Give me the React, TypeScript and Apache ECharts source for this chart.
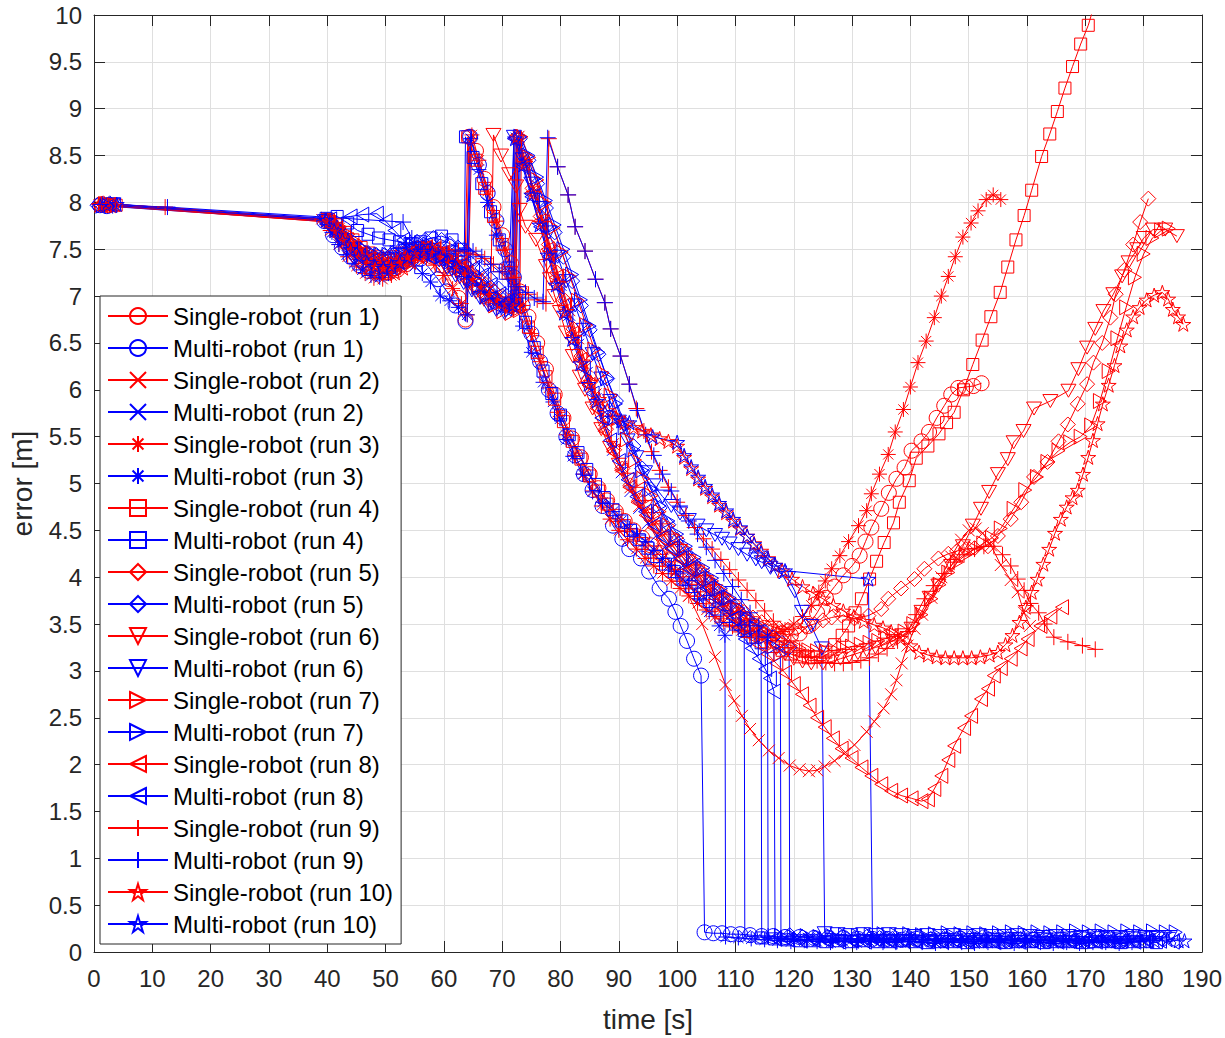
import React, { useEffect, useRef } from "react";
import * as echarts from "echarts";

// ---------- axes ----------
const xRange = [0, 190];
const xStep = 10;
const yRange = [0, 10];
const yStep = 0.5;
const xTitle = "time [s]";
const yTitle = "error [m]";

// ---------- series names ----------
const singleNames = [
  "Single-robot (run 1)", "Single-robot (run 2)", "Single-robot (run 3)", "Single-robot (run 4)", "Single-robot (run 5)",
  "Single-robot (run 6)", "Single-robot (run 7)", "Single-robot (run 8)", "Single-robot (run 9)", "Single-robot (run 10)",
];
const multiNames = [
  "Multi-robot (run 1)", "Multi-robot (run 2)", "Multi-robot (run 3)", "Multi-robot (run 4)", "Multi-robot (run 5)",
  "Multi-robot (run 6)", "Multi-robot (run 7)", "Multi-robot (run 8)", "Multi-robot (run 9)", "Multi-robot (run 10)",
];

// ---------- data: [time s, error m] ----------
const single1 = [[1.2,7.98],[2.5,7.97],[40,7.8],[41.5,7.7],[43,7.58],[44.5,7.47],[46,7.38],[47.5,7.31],[49,7.27],[50.5,7.25],[52,7.28],[53.5,7.34],[55,7.4],[56.5,7.45],[58,7.42],[59.5,7.33],[61,7.18],[62.5,6.98],[63.7,6.75],[64.3,8.7],[65.5,8.55],[67,8.25],[68.5,7.95],[70,7.65],[71.5,7.35],[73,7.05],[74.5,6.78],[76,6.5],[77.5,6.22],[79,5.95],[80.5,5.7],[82,5.48],[83.5,5.28],[85,5.1],[86.5,4.95],[88,4.82],[89.5,4.7],[91,4.6],[92.5,4.5],[94,4.42],[95.5,4.34],[97,4.26],[98.5,4.18],[100,4.1],[101.5,4.02],[103,3.95],[104.5,3.88],[106,3.8],[107.5,3.73],[109,3.66],[110.5,3.6],[112,3.55],[113.5,3.5],[115,3.46],[116.5,3.42],[118,3.4],[119.5,3.38],[121,3.4],[122.5,3.48],[124,3.62],[125.5,3.78],[127,3.9],[128.5,4.02],[130,4.12],[131.3,4.23],[132.3,4.38],[133.3,4.53],[135,4.73],[136.3,4.9],[137.6,5.05],[139,5.17],[140.2,5.35],[141.9,5.45],[143.2,5.55],[144.5,5.7],[145.8,5.83],[147,5.95],[148.2,6.02],[149.5,6.03],[150.8,6.04],[152.2,6.07]];
const multi1Path = [[1.0,7.97],[2.2,7.96],[39.5,7.8],[41,7.65],[42.5,7.52],[44,7.42],[45.5,7.33],[47,7.27],[48.5,7.24],[50,7.25],[51.5,7.3],[53,7.37],[54.5,7.42],[56,7.4],[57.5,7.3],[59,7.18],[60.5,7.05],[62,6.9],[63.7,6.73],[64.5,8.7],[66,8.4],[67.5,8.1],[69,7.8],[70.5,7.5],[72,7.2],[73.5,6.9],[75,6.6],[76.5,6.3],[78,6.0],[79.5,5.75],[81,5.5],[82.5,5.3],[84,5.1],[85.5,4.93],[87.2,4.76],[89,4.55],[90.6,4.41],[91.8,4.3],[93.8,4.2],[95.2,4.06],[97,3.88],[98.6,3.77],[99.7,3.63],[100.6,3.48],[101.7,3.32],[102.9,3.13],[104.1,2.95]];
const multi1Tail = [[104.7,0.21],[106.2,0.2],[107.7,0.2],[109.2,0.19],[110.8,0.19],[112.5,0.18],[114.5,0.17],[116.5,0.17],[118.5,0.16],[121,0.16],[123.5,0.15],[126,0.15],[128.5,0.15],[131,0.14],[133.5,0.14],[136,0.14],[138.5,0.13],[141,0.14],[143.5,0.13],[146,0.13],[148.5,0.14],[151,0.13],[153.5,0.13],[156,0.12],[158.5,0.13],[161,0.13],[163.5,0.12],[166,0.13],[168.5,0.12],[171,0.12],[173.5,0.13],[176,0.12]];

const single2 = [[1.5,7.97],[3,7.96],[40.5,7.79],[42,7.72],[43.5,7.62],[45,7.52],[46.5,7.44],[48,7.38],[49.5,7.35],[51,7.36],[52.5,7.4],[54,7.45],[55.5,7.5],[57,7.52],[58.5,7.5],[60,7.45],[61.5,7.4],[63,7.36],[64.5,7.3],[66,7.2],[67.5,7.05],[69,6.95],[70.5,6.9],[72,6.88],[72.8,8.7],[74,8.45],[75.5,8.12],[77,7.8],[78.5,7.48],[80,7.15],[81.5,6.85],[83,6.55],[84.5,6.25],[86,5.95],[87.5,5.68],[89,5.42],[90.5,5.18],[92,4.96],[93.5,4.76],[95.3,4.55],[97.5,4.3],[99.7,4.05],[102,3.8],[104.3,3.5],[106.5,3.15],[108.3,2.85],[109.8,2.68],[111.1,2.52],[112.5,2.38],[114,2.26],[115.7,2.15],[117.4,2.07],[119.3,1.99],[121,1.95],[122.6,1.93],[124,1.94],[125.3,1.98],[127,2.04],[128.7,2.12],[130.4,2.21],[132.5,2.35],[133.8,2.46],[135.4,2.6],[136.7,2.75],[137.6,2.9],[138.5,3.08],[139.5,3.27],[140.7,3.45],[142,3.6],[143.6,3.78],[145.3,4.0],[147,4.22],[148.7,4.4],[150,4.5],[151.2,4.52],[152.4,4.47],[153.8,4.34],[155.5,4.13],[157.2,3.97],[158.4,3.84],[159.5,3.62],[160.5,3.48]];
const multi2Path = [[2.0,7.98],[39.9,7.8],[41.3,7.7],[42.7,7.58],[44.1,7.48],[45.5,7.4],[46.9,7.33],[48.3,7.28],[49.7,7.26],[51.1,7.28],[52.5,7.33],[53.9,7.4],[55.3,7.46],[56.7,7.5],[58.1,7.5],[59.5,7.46],[60.9,7.4],[62.3,7.34],[63.7,7.26],[65.1,7.18],[66.5,7.08],[67.9,6.98],[69.3,6.9],[70.7,6.86],[72,6.88],[72.5,8.68],[74,8.4],[75.5,8.08],[77,7.76],[78.5,7.44],[80,7.12],[81.5,6.8],[83,6.48],[84.5,6.18],[86,5.9],[87.5,5.62],[89,5.36],[90.5,5.12],[92,4.92],[93.5,4.74],[95,4.58],[96.5,4.45],[98,4.33],[99.5,4.22],[101,4.12],[102.5,4.02],[104,3.92],[105.5,3.82],[107,3.72],[108.5,3.62],[110,3.53],[111.5,3.45]];
const multi2Tail = [[111.6,0.17],[113.8,0.16],[116,0.15],[118.2,0.14],[120.4,0.13],[122.6,0.14],[124.8,0.13],[127,0.12],[129.2,0.13],[131.4,0.12],[133.6,0.13],[135.8,0.12],[138,0.12],[140.2,0.11],[142.4,0.12],[144.6,0.12],[146.8,0.11],[149,0.12],[151.2,0.11],[153.4,0.12],[155.6,0.11],[157.8,0.12],[160,0.11],[162.2,0.12],[164.4,0.11],[166.6,0.12],[168.8,0.11],[171,0.11],[173.2,0.12],[175.4,0.11],[177.6,0.11],[179.8,0.12]];

const single3 = [[0.8,7.98],[2,7.97],[39,7.82],[40.5,7.7],[42,7.55],[43.5,7.42],[45,7.32],[46.5,7.24],[48,7.19],[49.5,7.18],[51,7.22],[52.5,7.3],[54,7.38],[55.5,7.42],[57,7.4],[58.5,7.33],[60,7.22],[61.5,7.08],[63,6.92],[64,6.8],[64.8,8.72],[66,8.45],[67.5,8.12],[69,7.8],[70.5,7.5],[72,7.2],[73.5,6.9],[75,6.6],[76.5,6.3],[78,6.02],[79.5,5.76],[81,5.52],[82.5,5.3],[84,5.1],[85.5,4.92],[87,4.76],[88.5,4.62],[90,4.5],[91.5,4.4],[93,4.3],[94.5,4.2],[96,4.12],[97.5,4.04],[99,3.96],[100.5,3.88],[102,3.8],[103.5,3.72],[105,3.65],[106.5,3.58],[108,3.52],[109.5,3.47],[111,3.43],[112.5,3.4],[114,3.38],[115.5,3.38],[117,3.4],[118.5,3.44],[120,3.5],[121.5,3.58],[123,3.7],[124.3,3.84],[125.4,3.96],[126.5,4.09],[127.9,4.23],[129.4,4.38],[131.1,4.55],[132.5,4.71],[133.3,4.89],[134.7,5.1],[136.2,5.31],[137.4,5.55],[138.8,5.79],[140,6.03],[141.3,6.29],[142.7,6.52],[144.1,6.77],[145.3,7.0],[146.5,7.21],[147.7,7.42],[149,7.63],[150.4,7.78],[151.6,7.91],[153,8.03],[154.2,8.08],[155.5,8.03]];
const multi3Path = [[1.8,7.98],[3.2,7.96],[39.5,7.81],[40.8,7.68],[42,7.55],[43.3,7.44],[44.6,7.35],[46,7.28],[47.5,7.22],[49,7.2],[50.5,7.24],[52,7.3],[53.5,7.36],[55,7.32],[56.3,7.24],[57.7,7.15],[59.4,7.0],[61,6.95],[62.5,6.88],[64,6.8],[64.6,8.68],[66,8.35],[67.5,8.0],[69,7.65],[70.5,7.3],[72,6.98],[73.5,6.68],[75,6.4],[77,6.08],[78.7,5.87],[79.9,5.69],[81,5.47],[82.1,5.29],[83.8,5.1],[85.5,4.91],[87.2,4.8],[89,4.7],[90.4,4.6],[91.8,4.52],[93.2,4.45],[94.6,4.38],[96,4.29],[97.5,4.2],[98.6,4.13],[99.7,4.06],[101,3.98],[102,3.91],[103.8,3.77],[105.5,3.63],[107.2,3.48],[108.2,3.38]];
const multi3Tail = [[108.3,0.16],[110.5,0.15],[112.7,0.14],[115,0.13],[117.2,0.12],[119.5,0.11],[121.8,0.12],[124,0.11],[126.3,0.1],[128.5,0.11],[130.8,0.1],[133,0.11],[135.3,0.1],[137.5,0.1],[139.8,0.11],[142,0.1],[144.3,0.09],[146.5,0.1],[148.8,0.1],[151,0.09],[153.3,0.1],[155.5,0.1],[157.8,0.09],[160,0.1],[162.3,0.1],[164.5,0.09],[166.8,0.1],[169,0.09],[171.3,0.1],[173.5,0.1],[175.8,0.09],[178,0.1]];

const single4 = [[2.4,7.98],[3.8,7.97],[40.2,7.82],[41.6,7.76],[43,7.68],[44.4,7.6],[45.8,7.52],[47.2,7.46],[48.6,7.42],[50,7.4],[51.4,7.42],[52.8,7.46],[54.2,7.5],[55.6,7.52],[57,7.52],[58.4,7.5],[59.8,7.46],[61.2,7.42],[62.6,7.36],[63.6,7.3],[64.1,8.7],[65.5,8.45],[67,8.15],[68.5,7.85],[70,7.55],[71.5,7.25],[73,6.95],[74.5,6.67],[76,6.4],[77.5,6.14],[79,5.9],[80.5,5.66],[82,5.45],[83.5,5.26],[85,5.08],[86.5,4.92],[88,4.78],[89.5,4.66],[91,4.55],[92.5,4.45],[94,4.36],[95.5,4.27],[97,4.18],[98.5,4.1],[100,4.02],[101.5,3.94],[103,3.86],[104.5,3.78],[106,3.7],[107.5,3.62],[109,3.55],[110.5,3.48],[112,3.42],[113.5,3.36],[115,3.31],[116.5,3.26],[118,3.22],[119.5,3.18],[121,3.15],[122.5,3.14],[124,3.15],[125.5,3.2],[127,3.28],[128.3,3.38],[129.4,3.48],[130.5,3.62],[131.6,3.77],[133,3.98],[134.2,4.17],[135.5,4.37],[137.1,4.58],[138.1,4.8],[139.8,5.03],[141,5.27],[143,5.4],[144.9,5.53],[146.2,5.65],[147.5,5.76],[149.1,6.0],[150.7,6.27],[152.3,6.53],[153.8,6.78],[155.4,7.04],[156.7,7.31],[158.1,7.6],[159.5,7.86],[160.8,8.13],[162.5,8.49],[163.9,8.73],[165.2,8.97],[166.5,9.22],[167.8,9.45],[169.2,9.69],[170.5,9.89],[171.6,10.12]];
const multi4Path = [[3.5,7.98],[39.8,7.83],[41.7,7.85],[43.5,7.78],[45.2,7.7],[47,7.66],[48.8,7.62],[50.6,7.6],[52.4,7.58],[54.2,7.56],[56,7.58],[57.8,7.62],[59.6,7.64],[61.4,7.6],[62.8,7.5],[63.5,7.45],[63.7,8.7],[65,8.48],[66.5,8.2],[68,7.9],[69.5,7.6],[71,7.3],[72.5,7.0],[74,6.72],[75.5,6.45],[77,6.2],[78.5,5.96],[80,5.73],[81.5,5.52],[83,5.33],[84.5,5.15],[86,4.99],[87.5,4.85],[89,4.72],[90.5,4.6],[92,4.5],[93.5,4.4],[95,4.31],[96.5,4.22],[98,4.14],[99.5,4.06],[101,3.98],[102.5,3.9],[104,3.82],[105.5,3.74],[107,3.66],[108.5,3.58],[110,3.5],[111.5,3.43],[113,3.36],[114.4,3.3]];
const multi4Tail = [[114.5,0.15],[116.7,0.14],[118.9,0.13],[121.1,0.12],[123.3,0.12],[125.5,0.11],[127.7,0.12],[129.9,0.11],[132.1,0.12],[134.3,0.11],[136.5,0.11],[138.7,0.12],[140.9,0.11],[143.1,0.1],[145.3,0.11],[147.5,0.11],[149.7,0.1],[151.9,0.11],[154.1,0.11],[156.3,0.1],[158.5,0.11],[160.7,0.11],[162.9,0.1],[165.1,0.11],[167.3,0.11],[169.5,0.1],[171.7,0.11],[173.9,0.11],[176.1,0.1],[178.3,0.11],[180.5,0.11],[182.2,0.1]];

const single5 = [[1.6,7.99],[2.9,7.97],[40.6,7.8],[42,7.7],[43.4,7.6],[44.8,7.5],[46.2,7.42],[47.6,7.36],[49,7.32],[50.4,7.3],[51.8,7.32],[53.2,7.36],[54.6,7.42],[56,7.48],[57.4,7.5],[58.8,7.48],[60.2,7.42],[61.6,7.36],[63,7.3],[64.4,7.25],[65.8,7.2],[67.2,7.12],[68.6,7.05],[70,7.0],[71.4,6.95],[72.5,8.7],[73.8,8.45],[75.2,8.15],[76.6,7.85],[78,7.55],[79.4,7.25],[80.8,6.95],[82.2,6.65],[83.6,6.36],[85,6.08],[86.4,5.82],[87.8,5.58],[89.2,5.36],[90.6,5.16],[92,4.98],[93.5,4.82],[95,4.67],[96.5,4.54],[98,4.42],[99.5,4.31],[101,4.21],[102.5,4.11],[104,4.02],[105.5,3.93],[107,3.85],[108.5,3.77],[110,3.7],[111.5,3.63],[113,3.57],[114.5,3.52],[116,3.48],[117.5,3.45],[119,3.44],[120.5,3.45],[122,3.47],[123.5,3.5],[125,3.54],[126.5,3.57],[128.2,3.59],[130.4,3.56],[132.8,3.59],[135,3.66],[136.2,3.77],[138.4,3.88],[140.7,3.98],[142.4,4.09],[144.8,4.2],[146.5,4.25],[148,4.28],[149.5,4.3],[151,4.31],[153.3,4.33],[155,4.44],[157.2,4.62],[159,4.8],[161.2,5.07],[163.5,5.23],[165.4,5.45],[167,5.63],[168.7,5.85],[170.3,6.06],[171.4,6.29],[172.9,6.5],[174.3,6.77],[175.2,7.02],[176.7,7.28],[178.2,7.55],[179.4,7.79],[180.8,8.04]];
const multi5Path = [[0.6,7.97],[2.7,7.99],[40,7.8],[41.4,7.72],[42.8,7.62],[44.2,7.55],[45.6,7.5],[47,7.46],[48.4,7.44],[49.8,7.44],[51.2,7.46],[52.6,7.5],[54,7.54],[55.4,7.58],[56.8,7.6],[58.2,7.62],[59.6,7.6],[61,7.56],[62.4,7.52],[63.8,7.47],[65.2,7.4],[66.6,7.3],[68,7.18],[69.4,7.08],[70.8,7.0],[72.2,6.95],[73,8.68],[74.5,8.45],[76,8.2],[77.5,7.94],[79,7.68],[80.5,7.42],[82,7.16],[83.5,6.9],[85,6.64],[86.5,6.38],[88,6.12],[89.5,5.88],[91,5.64],[92.5,5.4],[94,5.16],[95.5,4.94],[97,4.74],[98.5,4.56],[100,4.4],[101.5,4.26],[103,4.13],[104.5,4.02],[106,3.92],[107.5,3.82],[109,3.73],[110.5,3.64],[112,3.56],[113.5,3.48],[115,3.42],[116.5,3.36],[118,3.3],[119.2,3.25]];
const multi5Tail = [[119.3,0.18],[121.5,0.16],[123.7,0.15],[125.9,0.14],[128.1,0.15],[130.3,0.14],[132.5,0.16],[134.7,0.15],[136.9,0.14],[139.1,0.15],[141.3,0.16],[143.5,0.14],[145.7,0.15],[147.9,0.14],[150.1,0.15],[152.3,0.16],[154.5,0.14],[156.7,0.15],[158.9,0.14],[161.1,0.15],[163.3,0.16],[165.5,0.15],[167.7,0.14],[169.9,0.15],[172.1,0.16],[174.3,0.15],[176.5,0.14],[178.7,0.15],[180.9,0.15],[183.1,0.14]];

const single6 = [[2.1,7.97],[40.3,7.79],[41.7,7.68],[43.1,7.57],[44.5,7.47],[45.9,7.4],[47.3,7.34],[48.7,7.31],[50.1,7.3],[51.5,7.33],[52.9,7.38],[54.3,7.43],[55.7,7.46],[57.1,7.46],[58.5,7.42],[59.9,7.36],[61.3,7.28],[62.7,7.2],[64.1,7.12],[65.5,7.04],[66.9,6.96],[68,6.9],[68.5,8.72],[69.8,8.5],[71.2,8.3],[72.4,8.17],[73,7.92],[74,7.74],[75.8,7.6],[77.5,7.32],[78.2,7.18],[79,7.0],[79.9,6.83],[80.9,6.61],[82.1,6.36],[83.3,6.14],[84.2,6.0],[85.5,5.8],[87,5.58],[88.5,5.38],[90,5.2],[91.5,5.04],[93,4.89],[94.5,4.75],[96,4.62],[97.5,4.5],[99,4.39],[100.5,4.28],[102,4.17],[103.5,4.06],[105,3.95],[106.5,3.85],[108,3.75],[109.5,3.65],[111,3.56],[112.5,3.47],[114,3.39],[115.5,3.31],[117,3.24],[118.5,3.18],[120,3.13],[121.5,3.1],[123,3.08],[125,3.08],[126.5,3.1],[128,3.13],[129.5,3.16],[131,3.19],[132.5,3.22],[134,3.25],[135.5,3.28],[137,3.32],[138.6,3.38],[140.2,3.45],[141.9,3.63],[143.3,3.78],[144.8,3.91],[147,4.12],[149,4.33],[150.7,4.55],[152.1,4.73],[153.5,4.91],[155,5.1],[156.7,5.26],[157.7,5.44],[159.4,5.56],[161.2,5.8],[164,5.88],[167.1,5.99],[168.8,6.22],[170.3,6.45],[171.7,6.65],[173.1,6.84],[174.8,7.02],[176.3,7.21],[177.4,7.36],[178.9,7.5],[180,7.62],[181.6,7.71],[183.7,7.71],[185.7,7.64]];
const multi6Path = [[3.3,7.98],[39.6,7.8],[41,7.7],[42.4,7.6],[43.8,7.5],[45.2,7.44],[46.6,7.4],[48,7.38],[49.4,7.38],[50.8,7.4],[52.2,7.44],[53.6,7.48],[55,7.5],[56.4,7.48],[57.8,7.44],[59.2,7.38],[60.6,7.3],[62,7.22],[63.4,7.14],[64.8,7.06],[66.2,6.98],[67.6,6.9],[69,6.85],[70.4,6.82],[71.5,6.85],[72,8.7],[73.5,8.46],[75,8.2],[76.5,7.94],[78,7.68],[79.5,7.42],[81,7.16],[82.5,6.9],[84,6.64],[85.5,6.38],[87,6.12],[88.5,5.88],[90,5.66],[91.5,5.46],[93,5.28],[94.5,5.12],[96,4.98],[97.5,4.86],[99,4.76],[100.5,4.68],[102,4.61],[103.5,4.55],[105,4.5],[106.5,4.45],[107.7,4.41],[109,4.36],[110.5,4.3],[112,4.24],[113.5,4.19],[114.5,4.16],[116,4.1],[117.5,4.05],[119,3.99],[120.2,3.85],[121.4,3.63],[123,3.48],[124.8,3.24]];
const multi6Tail = [[125.3,0.2],[127.5,0.19],[129.7,0.18],[131.9,0.19],[134.1,0.18],[136.3,0.19],[138.5,0.18],[140.7,0.17],[142.9,0.18],[145.1,0.17],[147.3,0.18],[149.5,0.17],[151.7,0.18],[153.9,0.17],[156.1,0.17],[158.3,0.18],[160.5,0.17],[162.7,0.16],[164.9,0.17],[167.1,0.17],[169.3,0.16],[171.5,0.17],[173.7,0.16],[175.9,0.16],[178.1,0.17],[180.3,0.16],[182.5,0.16],[184.5,0.16]];

const single7 = [[1.9,7.98],[3.4,7.97],[40.8,7.8],[42.2,7.74],[43.6,7.66],[45,7.58],[46.4,7.5],[47.8,7.44],[49.2,7.4],[50.6,7.38],[52,7.38],[53.4,7.4],[54.8,7.44],[56.2,7.47],[57.6,7.48],[59,7.46],[60.4,7.42],[61.8,7.36],[63.2,7.28],[64.6,7.2],[66,7.1],[67.4,7.0],[68.8,6.9],[70.2,6.84],[71.6,6.82],[73,6.85],[73.3,8.7],[74.6,8.48],[76,8.24],[77.4,7.99],[78.8,7.73],[80.2,7.47],[81.6,7.21],[83,6.95],[84.4,6.69],[85.8,6.43],[87.2,6.18],[88.6,5.94],[90,5.7],[91.4,5.47],[92.8,5.25],[94.2,5.05],[95.6,4.87],[97,4.7],[98.5,4.55],[100,4.42],[101.5,4.3],[103,4.18],[104.5,4.07],[106,3.96],[107.5,3.86],[109,3.76],[110.5,3.66],[112,3.57],[113.5,3.49],[115,3.42],[116.5,3.36],[118,3.31],[119.5,3.27],[121,3.24],[122.5,3.22],[124,3.21],[125.5,3.21],[127,3.22],[128.5,3.24],[130,3.26],[131.5,3.28],[133,3.3],[134.5,3.32],[136,3.35],[137.5,3.38],[139,3.42],[140.5,3.5],[141.9,3.6],[143.6,3.77],[145,3.92],[146.5,4.05],[148,4.16],[149.5,4.24],[151,4.3],[152.5,4.36],[154,4.42],[155.5,4.52],[157.7,4.73],[159.7,4.93],[161.7,5.07],[163.5,5.23],[165.4,5.35],[167.4,5.44],[169.2,5.5],[171,5.62],[172.5,5.88],[174,6.2],[175.5,6.55],[177,6.88],[178.5,7.2],[180,7.45],[181.5,7.62],[183,7.7],[184.3,7.72]];
const multi7Path = [[2.3,7.97],[40.7,7.8],[42.1,7.72],[43.5,7.64],[44.9,7.56],[46.3,7.5],[47.7,7.46],[49.1,7.44],[50.5,7.44],[51.9,7.46],[53.3,7.5],[54.7,7.54],[56.1,7.56],[57.5,7.55],[58.9,7.5],[60.3,7.44],[61.7,7.36],[63.1,7.28],[64.5,7.2],[65.9,7.1],[67.3,7.0],[68.7,6.92],[70.1,6.88],[71.5,6.86],[72.8,6.9],[73.1,8.7],[74.5,8.5],[76,8.27],[77.5,8.02],[79,7.76],[80.5,7.5],[82,7.23],[83.5,6.96],[85,6.68],[86.5,6.4],[88,6.12],[89.5,5.85],[91,5.6],[92.5,5.36],[94,5.14],[95.5,4.94],[97,4.76],[98.5,4.6],[100,4.46],[101.5,4.33],[103,4.21],[104.5,4.1],[106,3.99],[107.5,3.88],[109,3.78],[110.5,3.67],[112,3.56],[113.5,3.46],[115,3.36],[116.5,3.26],[117.7,3.18]];
const multi7Tail = [[117.8,0.17],[120,0.16],[122.2,0.17],[124.4,0.16],[126.6,0.17],[128.8,0.18],[131,0.17],[133.2,0.18],[135.4,0.19],[137.6,0.18],[139.8,0.19],[142,0.18],[144.2,0.19],[146.4,0.2],[148.6,0.19],[150.8,0.2],[153,0.19],[155.2,0.2],[157.4,0.21],[159.6,0.2],[161.8,0.21],[164,0.2],[166.2,0.21],[168.4,0.22],[170.6,0.21],[172.8,0.22],[175,0.21],[177.2,0.22],[179.4,0.21],[181.6,0.22],[183.8,0.21],[185.5,0.21]];

const single8 = [[2.6,7.97],[40.1,7.8],[41.5,7.72],[42.9,7.62],[44.3,7.53],[45.7,7.45],[47.1,7.39],[48.5,7.35],[49.9,7.34],[51.3,7.36],[52.7,7.4],[54.1,7.46],[55.5,7.5],[56.9,7.52],[58.3,7.5],[59.7,7.46],[61.1,7.4],[62.5,7.32],[63.9,7.24],[65.3,7.15],[66.7,7.06],[68.1,6.98],[69.5,6.92],[70.9,6.88],[72,6.9],[72.2,8.68],[73.6,8.4],[75,8.1],[76.4,7.8],[77.8,7.5],[79.2,7.2],[80.6,6.9],[82,6.6],[83.4,6.32],[84.8,6.05],[86.2,5.8],[87.6,5.56],[89,5.34],[90.4,5.14],[91.8,4.96],[93.2,4.8],[94.6,4.66],[96,4.53],[97.5,4.41],[99,4.3],[100.5,4.19],[102,4.08],[103.5,3.98],[105,3.88],[106.5,3.78],[108,3.68],[109.5,3.58],[111,3.48],[112.5,3.38],[114,3.28],[115.5,3.18],[117,3.08],[118.5,2.98],[120,2.86],[121.4,2.75],[122.7,2.63],[124,2.5],[125.3,2.4],[126.7,2.28],[128.2,2.17],[129.9,2.07],[131.6,1.97],[133.3,1.88],[135,1.79],[136.7,1.72],[138.4,1.67],[140.2,1.64],[141.9,1.61],[143,1.63],[144.1,1.74],[145.3,1.88],[146.5,2.05],[147.5,2.2],[149.2,2.39],[150.4,2.52],[152.1,2.7],[153.3,2.81],[154.3,2.95],[155.5,3.03],[157.2,3.13],[158.9,3.24],[160.1,3.34],[162.3,3.48],[164,3.58],[166,3.68]];
const multi8Path = [[2.8,7.97],[40.5,7.82],[44,7.85],[46,7.87],[48.5,7.88],[50,7.8],[51.5,7.7],[53,7.6],[54.5,7.52],[56,7.46],[57.5,7.42],[59,7.4],[60.5,7.38],[62,7.36],[63.5,7.34],[65,7.3],[66.5,7.22],[68,7.12],[69.5,7.02],[71,6.95],[72,8.68],[73.5,8.38],[75,8.06],[76.5,7.74],[78,7.42],[79.5,7.1],[81,6.8],[82.5,6.51],[84,6.23],[85.5,5.96],[87,5.7],[88.5,5.46],[90,5.24],[91.5,5.04],[93,4.86],[94.5,4.7],[96,4.56],[97.5,4.43],[99,4.31],[100.5,4.2],[102,4.09],[103.5,3.98],[105,3.88],[106.5,3.78],[108,3.68],[109.5,3.56],[110.5,3.46],[111.6,3.34],[112.8,3.24],[114,3.13],[115.1,3.02],[115.9,2.92],[116.6,2.78]];
const multi8Tail = [[116.8,0.14],[119,0.13],[121.2,0.12],[123.4,0.13],[125.6,0.12],[127.8,0.11],[130,0.12],[132.2,0.11],[134.4,0.12],[136.6,0.11],[138.8,0.12],[141,0.11],[143.2,0.12],[145.4,0.11],[147.6,0.12],[149.8,0.11],[152,0.12],[154.2,0.11],[156.4,0.12],[158.6,0.11],[160.8,0.12],[163,0.12],[165.2,0.11],[167.4,0.12],[169.6,0.12],[171.8,0.11],[174,0.12],[176.2,0.12],[178.4,0.11],[180.6,0.12],[182.8,0.12],[185,0.11]];

const single9 = [[1.3,7.98],[12.2,7.95],[40,7.8],[41.5,7.72],[43,7.62],[44.5,7.52],[46,7.44],[47.5,7.38],[49,7.34],[50.5,7.33],[52,7.35],[53.5,7.4],[55,7.45],[56.5,7.5],[58,7.52],[59.5,7.52],[61,7.5],[62.5,7.48],[64,7.46],[65.5,7.44],[67,7.4],[68.5,7.34],[70,7.26],[71.5,7.18],[73,7.1],[74.5,7.02],[76,6.96],[77.5,6.92],[78,8.68],[79.5,8.38],[81.3,8.08],[82.5,7.74],[84.2,7.48],[86,7.18],[87.6,6.93],[88.6,6.65],[90.3,6.36],[91.8,6.06],[93,5.8],[94.3,5.56],[95.6,5.34],[97,5.14],[98.5,4.96],[100,4.8],[101.5,4.66],[103,4.53],[104.5,4.41],[106,4.3],[107.5,4.19],[109,4.08],[110.5,3.97],[112,3.86],[113.5,3.75],[115,3.64],[116.5,3.53],[118,3.42],[119.5,3.32],[121,3.22],[122.5,3.15],[124,3.11],[125.5,3.09],[127,3.08],[128.5,3.08],[130,3.09],[131.5,3.11],[133,3.14],[134.5,3.18],[136,3.24],[137.8,3.32],[139.6,3.42],[141,3.6],[142.4,3.77],[144,3.91],[145.8,4.04],[147.5,4.16],[149.2,4.24],[151,4.3],[152.6,4.33],[154.3,4.33],[155.8,4.24],[157.2,4.12],[158.4,3.98],[159.5,3.86],[160.6,3.72],[162,3.62],[163,3.5],[164.6,3.36],[167,3.31],[169.5,3.27],[171.7,3.23]];
const multi9Path = [[1.5,7.98],[12.6,7.95],[53,7.79],[54.5,7.62],[56,7.5],[57.5,7.45],[59,7.44],[60.5,7.45],[62,7.48],[63.5,7.5],[65,7.48],[66.5,7.42],[68,7.34],[69.5,7.26],[71,7.18],[72.5,7.1],[74,7.04],[75.5,6.98],[77,6.94],[77.8,8.69],[79.5,8.38],[81.3,8.08],[82.5,7.74],[84.2,7.48],[86,7.18],[87.6,6.93],[88.6,6.65],[90.3,6.36],[91.8,6.06],[93.2,5.78],[94.6,5.52],[96,5.3],[97.5,5.1],[99,4.92],[100.5,4.76],[102,4.6],[103.5,4.46],[105,4.32],[106.5,4.18],[108,4.04],[109.5,3.9],[111,3.76],[112.5,3.62],[114,3.48],[115.5,3.36]];
const multi9Tail = [[115.6,0.17],[117.8,0.15],[120,0.14],[122.2,0.13],[124.4,0.14],[126.6,0.13],[128.8,0.14],[131,0.13],[133.2,0.14],[135.4,0.13],[137.6,0.13],[139.8,0.14],[142,0.13],[144.2,0.13],[146.4,0.14],[148.6,0.13],[150.8,0.13],[153,0.14],[155.2,0.13],[157.4,0.13],[159.6,0.14],[161.8,0.13],[164,0.13],[166.2,0.14],[168.4,0.13],[170.6,0.13],[172.8,0.14],[175,0.13],[177.2,0.13],[179.4,0.14],[181,0.13]];

const single10 = [[0.9,7.97],[3.6,7.98],[40.4,7.81],[41.8,7.71],[43.2,7.6],[44.6,7.5],[46,7.41],[47.4,7.33],[48.8,7.27],[50.2,7.24],[51.6,7.25],[53,7.3],[54.4,7.36],[55.8,7.42],[57.2,7.46],[58.6,7.46],[60,7.42],[61.4,7.36],[62.8,7.3],[64.2,7.24],[65.6,7.16],[67,7.08],[68.4,7.0],[69.8,6.94],[71.2,6.9],[72.4,6.9],[72.6,8.7],[74,8.42],[75.4,8.1],[76.8,7.78],[78.2,7.46],[79.6,7.14],[81,6.84],[82.4,6.56],[83.8,6.3],[85.2,6.08],[86.6,5.9],[88,5.78],[89.5,5.7],[91,5.65],[92.5,5.6],[94,5.56],[95.5,5.52],[97,5.48],[98.5,5.45],[100,5.4],[101.2,5.28],[102.4,5.16],[103.6,5.05],[104.8,4.95],[106,4.86],[107.2,4.77],[108.4,4.69],[109.6,4.6],[110.8,4.52],[112,4.44],[113.2,4.36],[114.4,4.28],[115.6,4.2],[116.8,4.13],[118,4.07],[119.7,3.98],[121.5,3.9],[123.3,3.83],[125,3.77],[126.8,3.7],[128.5,3.64],[130.3,3.58],[132,3.53],[133.8,3.49],[135.3,3.46],[136.7,3.42],[138.3,3.35],[140,3.27],[141.5,3.2],[143,3.17],[144.5,3.15],[146,3.14],[147.5,3.14],[149,3.14],[150.5,3.14],[152,3.15],[153.6,3.17],[155,3.2],[156.3,3.28],[157.5,3.38],[158.7,3.52],[159.8,3.68],[160.8,3.84],[161.8,3.98],[162.8,4.14],[163.8,4.3],[164.8,4.47],[165.8,4.62],[166.8,4.75],[167.8,4.85],[168.7,4.93],[169.6,5.1],[170.5,5.28],[171.3,5.46],[172.1,5.64],[173,5.85],[174,6.05],[175,6.26],[176,6.47],[177.1,6.64],[178.2,6.78],[179.3,6.88],[180.5,6.96],[181.8,7.01],[183.2,7.04],[184.2,6.97],[185,6.86],[185.9,6.78],[186.8,6.7]];
const multi10Path = [[1.1,7.96],[3.9,7.98],[39.8,7.81],[41.2,7.7],[42.6,7.6],[44,7.5],[45.4,7.42],[46.8,7.36],[48.2,7.32],[49.6,7.3],[51,7.32],[52.4,7.36],[53.8,7.42],[55.2,7.46],[56.6,7.48],[58,7.46],[59.4,7.42],[60.8,7.36],[62.2,7.3],[63.6,7.24],[65,7.18],[66.4,7.1],[67.8,7.02],[69.2,6.96],[70.6,6.92],[71.8,6.9],[72.2,8.68],[73.6,8.4],[75,8.08],[76.4,7.76],[77.8,7.44],[79.2,7.12],[80.6,6.82],[82,6.54],[83.4,6.28],[84.8,6.06],[86.2,5.88],[87.6,5.76],[89,5.7],[90.4,5.67],[91.8,5.65],[95.8,5.5],[100,5.44],[101.2,5.3],[102.4,5.18],[103.6,5.07],[104.8,4.97],[106,4.88],[107.2,4.79],[108.4,4.71],[109.6,4.62],[110.8,4.53],[112,4.44],[113.2,4.35],[114.4,4.26],[115.6,4.19],[116.8,4.13],[118.5,4.07],[132.8,3.98]];
const multi10Tail = [[133.5,0.15],[135.7,0.14],[137.9,0.13],[140.1,0.14],[142.3,0.13],[144.5,0.12],[146.7,0.13],[148.9,0.12],[151.1,0.13],[153.3,0.12],[155.5,0.12],[157.7,0.13],[159.9,0.12],[162.1,0.12],[164.3,0.13],[166.5,0.12],[168.7,0.12],[170.9,0.13],[173.1,0.12],[175.3,0.12],[177.5,0.13],[179.7,0.12],[181.9,0.12],[184.1,0.13],[186,0.12],[187,0.12]];

const singleData = [single1, single2, single3, single4, single5, single6, single7, single8, single9, single10];
const multiData = [
  multi1Path.concat(multi1Tail), multi2Path.concat(multi2Tail), multi3Path.concat(multi3Tail),
  multi4Path.concat(multi4Tail), multi5Path.concat(multi5Tail), multi6Path.concat(multi6Tail),
  multi7Path.concat(multi7Tail), multi8Path.concat(multi8Tail), multi9Path.concat(multi9Tail),
  multi10Path.concat(multi10Tail),
];

// ---------- marker shapes (MATLAB: o x * s d v > < + p) ----------
const STAR = "path://M10,0L12.245,6.91L19.511,6.91L13.633,11.18L15.878,18.09L10,13.82L4.122,18.09L6.367,11.18L0.489,6.91L7.755,6.91Z";
const markers = [
  { symbol: "circle", size: 15 },
  { symbol: "path://M0,0L10,10M10,0L0,10", size: 12 },
  { symbol: "path://M5,0L5,10M0,5L10,5M1.6,1.6L8.4,8.4M8.4,1.6L1.6,8.4", size: 15 },
  { symbol: "rect", size: 12 },
  { symbol: "diamond", size: 15 },
  { symbol: "path://M0,0L10,0L5,8.66Z", size: 15 },
  { symbol: "path://M0,0L8.66,5L0,10Z", size: 15 },
  { symbol: "path://M8.66,0L0,5L8.66,10Z", size: 15 },
  { symbol: "path://M5,0L5,10M0,5L10,5", size: 16 },
  { symbol: STAR, size: 15 },
];

const RED = "#ff0000";
const BLUE = "#0000ff";
const FONT = "Liberation Sans";
const AXIS_COLOR = "#262626";
const GRID_COLOR = "#dfdfdf";

function makeSeries(name: string, data: number[][], color: string, m: { symbol: string; size: number }) {
  return {
    name,
    type: "line",
    data,
    symbol: m.symbol,
    symbolSize: m.size,
    symbolKeepAspect: true,
    showSymbol: true,
    clip: true,
    lineStyle: { color, width: 1 },
    itemStyle: { color: "rgba(0,0,0,0)", borderColor: color, borderWidth: 1 },
    emphasis: { disabled: true },
  };
}

export default function App() {
  const ref = useRef<HTMLDivElement>(null);
  useEffect(() => {
    document.body.style.margin = "0";
    if (!ref.current) return;
    const chart = echarts.init(ref.current, null, { renderer: "svg" });
    const series: any[] = [];
    for (let i = 0; i < 10; i++) {
      series.push(makeSeries(singleNames[i], singleData[i], RED, markers[i]));
      series.push(makeSeries(multiNames[i], multiData[i], BLUE, markers[i]));
    }
    const legendNames: string[] = [];
    for (let i = 0; i < 10; i++) { legendNames.push(singleNames[i], multiNames[i]); }

    const axisLabel = { color: AXIS_COLOR, fontSize: 24, fontFamily: FONT };
    chart.setOption({
      animation: false,
      backgroundColor: "#ffffff",
      textStyle: { fontFamily: FONT },
      grid: { left: 89, right: 23, top: 15, bottom: 84, containLabel: false },
      xAxis: [
        {
          type: "value", min: xRange[0], max: xRange[1], interval: xStep, position: "bottom",
          name: xTitle, nameLocation: "middle", nameGap: 53,
          nameTextStyle: { color: AXIS_COLOR, fontSize: 28, fontFamily: FONT },
          axisLine: { show: true, onZero: false, lineStyle: { color: AXIS_COLOR, width: 1 } },
          axisTick: { show: true, inside: true, length: 11, lineStyle: { color: AXIS_COLOR } },
          axisLabel: { ...axisLabel, margin: 14 },
          splitLine: { show: true, lineStyle: { color: GRID_COLOR, width: 1 } },
        },
        {
          type: "value", min: xRange[0], max: xRange[1], interval: xStep, position: "top",
          axisLine: { show: true, onZero: false, lineStyle: { color: AXIS_COLOR, width: 1 } },
          axisTick: { show: true, inside: true, length: 11, lineStyle: { color: AXIS_COLOR } },
          axisLabel: { show: false }, splitLine: { show: false },
        },
      ],
      yAxis: [
        {
          type: "value", min: yRange[0], max: yRange[1], interval: yStep, position: "left",
          name: yTitle, nameLocation: "middle", nameGap: 58, nameRotate: 90,
          nameTextStyle: { color: AXIS_COLOR, fontSize: 28, fontFamily: FONT },
          axisLine: { show: true, onZero: false, lineStyle: { color: AXIS_COLOR, width: 1 } },
          axisTick: { show: true, inside: true, length: 11, lineStyle: { color: AXIS_COLOR } },
          axisLabel: { ...axisLabel, margin: 12 },
          splitLine: { show: true, lineStyle: { color: GRID_COLOR, width: 1 } },
        },
        {
          type: "value", min: yRange[0], max: yRange[1], interval: yStep, position: "right",
          axisLine: { show: true, onZero: false, lineStyle: { color: AXIS_COLOR, width: 1 } },
          axisTick: { show: true, inside: true, length: 11, lineStyle: { color: AXIS_COLOR } },
          axisLabel: { show: false }, splitLine: { show: false },
        },
      ],
      legend: {
        data: legendNames,
        orient: "vertical",
        left: 100,
        top: 296,
        padding: [8, 8, 8, 7],
        itemWidth: 60,
        itemHeight: 20,
        itemGap: 8,
        backgroundColor: "#ffffff",
        borderColor: AXIS_COLOR,
        borderWidth: 1,
        borderRadius: 0,
        selectedMode: false,
        textStyle: { color: "#000000", fontSize: 24, fontFamily: FONT, lineHeight: 24 },
      },
      series,
    });
    return () => chart.dispose();
  }, []);
  return <div ref={ref} style={{ width: 1225, height: 1038 }} />;
}
